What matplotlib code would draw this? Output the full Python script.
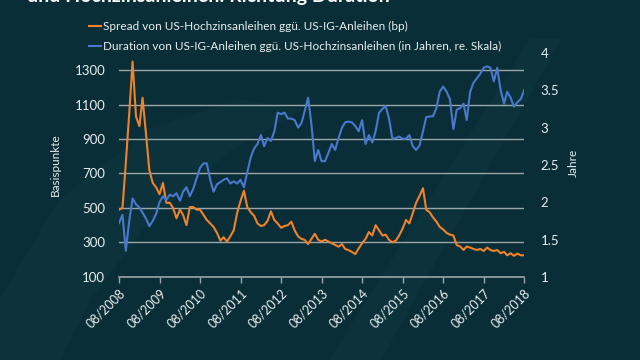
import matplotlib
matplotlib.use("Agg")
import matplotlib.pyplot as plt
import matplotlib.dates as mdates
from matplotlib.patches import Polygon
import pandas as pd

plt.rcParams['font.family'] = ['Lato', 'DejaVu Sans']

# monthly readings, 08/2008 .. 08/2018
dates = pd.date_range('2008-08-01', periods=121, freq='MS')

spread_bp = [490, 500, 760, 1050, 1350, 1030, 975, 1140, 930, 720,
             645, 620, 580, 645, 530, 530, 500, 440, 490, 460,
             400, 505, 505, 490, 490, 460, 430, 410, 390, 355,
             310, 330, 305, 335, 370, 470, 540, 600, 505, 475,
             455, 410, 395, 400, 425, 480, 430, 410, 385, 395,
             400, 420, 370, 335, 320, 315, 290, 320, 350, 315,
             305, 315, 305, 295, 285, 275, 290, 262, 255, 245,
             232, 265, 295, 320, 360, 340, 400, 370, 340, 345,
             315, 300, 310, 340, 380, 430, 410, 470, 530, 570,
             615, 490, 475, 445, 421, 390, 375, 355, 345, 340,
             285, 276, 256, 276, 270, 262, 256, 262, 250, 270,
             256, 250, 256, 237, 245, 225, 237, 222, 235, 225,
             225]

duration_yrs = [1.72, 1.83, 1.35, 1.75, 2.05, 1.97, 1.93, 1.86, 1.78, 1.68,
                1.75, 1.84, 2.00, 2.08, 2.03, 2.10, 2.08, 2.12, 2.02, 2.14,
                2.20, 2.08, 2.18, 2.32, 2.46, 2.52, 2.52, 2.30, 2.14, 2.24,
                2.27, 2.30, 2.32, 2.25, 2.28, 2.25, 2.30, 2.20, 2.40, 2.60,
                2.72, 2.78, 2.90, 2.75, 2.86, 2.82, 2.95, 3.20, 3.18, 3.20,
                3.12, 3.12, 3.10, 3.00, 3.06, 3.22, 3.40, 3.05, 2.55, 2.70,
                2.55, 2.55, 2.66, 2.78, 2.70, 2.86, 3.00, 3.07, 3.08, 3.07,
                3.02, 2.95, 3.10, 2.78, 2.90, 2.80, 2.95, 3.20, 3.25, 3.29,
                3.12, 2.85, 2.86, 2.88, 2.85, 2.85, 2.90, 2.75, 2.70, 2.76,
                2.95, 3.14, 3.15, 3.15, 3.26, 3.48, 3.55, 3.48, 3.38, 2.98,
                3.24, 3.26, 3.32, 3.10, 3.48, 3.60, 3.66, 3.72, 3.80, 3.82,
                3.80, 3.62, 3.80, 3.50, 3.32, 3.48, 3.40, 3.28, 3.34, 3.38,
                3.50]

label_spread = 'Spread von US-Hochzinsanleihen ggü. US-IG-Anleihen (bp)'
label_dur = 'Duration von US-IG-Anleihen ggü. US-Hochzinsanleihen (in Jahren, re. Skala)'

bg = '#0a2e37'
shade = '#0c333c'
orange = '#f0822a'
blue = '#4a78cc'
grid_c = '#9aa6a8'
txt = '#e8eeee'

fig = plt.figure(figsize=(6.4, 3.6), dpi=100, facecolor=bg)

# faint background swooshes (pixel coords, top-left origin)
def px(pts):
    return [(x / 640, 1 - y / 360) for x, y in pts]

fig.patches.append(Polygon(px([(0, 300), (60, 200), (150, 130), (240, 100), (300, 110),
                                (230, 150), (150, 220), (90, 300), (60, 360), (0, 360)]),
                           closed=True, transform=fig.transFigure, color=shade, zorder=-5))
fig.patches.append(Polygon(px([(330, 360), (380, 360), (560, 40), (530, 40)]),
                           closed=True, transform=fig.transFigure, color=shade, zorder=-5))

ax1 = fig.add_axes([0.186, 0.231, 0.633, 0.622])
ax1.set_facecolor('none')
ax2 = ax1.twinx()
ax2.set_facecolor('none')

ax1.plot(dates, spread_bp, color=orange, lw=1.5, zorder=3)
ax2.plot(dates, duration_yrs, color=blue, lw=1.5, zorder=3)

ax1.set_ylim(100, 1400)
ax1.set_yticks(range(100, 1400, 200))
ax2.set_ylim(1, 4)
ax2.set_yticks([1, 1.5, 2, 2.5, 3, 3.5, 4])
ax2.set_yticklabels(['1', '1.5', '2', '2.5', '3', '3.5', '4'])
ax1.set_xlim(dates[0], dates[-1])
ax1.xaxis.set_major_locator(mdates.MonthLocator(bymonth=8))
ax1.xaxis.set_major_formatter(mdates.DateFormatter('%m/%Y'))

for y in range(300, 1400, 200):
    ax1.axhline(y, color=grid_c, lw=1.0, zorder=1)

for a in (ax1, ax2):
    for s in a.spines.values():
        s.set_visible(False)
ax1.spines['bottom'].set_visible(True)
ax1.spines['bottom'].set_color(grid_c)
ax1.spines['bottom'].set_linewidth(1.2)

ax1.tick_params(axis='y', length=0, pad=10, labelsize=9.5, labelcolor=txt)
ax2.tick_params(axis='y', length=0, pad=12, labelsize=9.5, labelcolor=txt)
ax1.tick_params(axis='x', length=4, width=1, color=grid_c, pad=3, labelsize=9, labelcolor=txt)
for lab in ax1.get_xticklabels():
    lab.set_rotation(45)
    lab.set_ha('right')
    lab.set_rotation_mode('anchor')

fig.text(55 / 640, 1 - 165 / 360, 'Basispunkte', rotation=90, color=txt,
         fontsize=8.5, ha='center', va='center')
fig.text(573 / 640, 1 - 163 / 360, 'Jahre', rotation=90, color=txt,
         fontsize=8.5, ha='center', va='center')

# headline, cut by the top edge as in the source slide
fig.text(27 / 640, 1 - 2 / 360, 'und Hochzinsanleihen: Richtung Duration', color='white',
         fontsize=14, fontweight='bold', ha='left', va='baseline')

h1, = ax1.plot([], [], color=orange, lw=1.5)
h2, = ax1.plot([], [], color=blue, lw=1.5)
fig.legend([h1, h2], [label_spread, label_dur], loc='upper left',
           bbox_to_anchor=(84 / 640, 1 - 16 / 360), frameon=False,
           fontsize=8.5, labelcolor=txt, handlelength=1.0, handletextpad=0.2,
           labelspacing=0.75, borderaxespad=0)

fig.savefig('out.png', dpi=100, facecolor=bg)
